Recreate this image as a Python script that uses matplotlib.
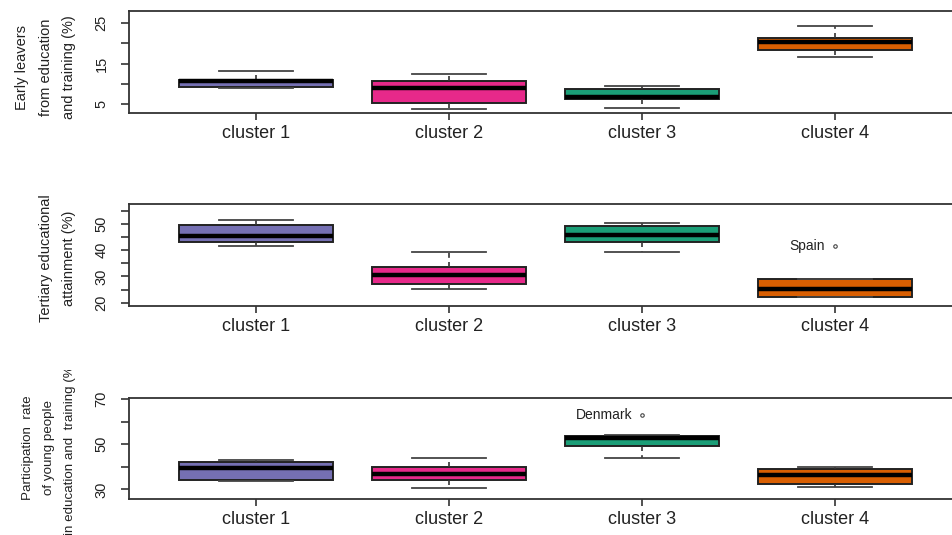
import matplotlib
matplotlib.use("Agg")
import matplotlib.pyplot as plt
from matplotlib.transforms import Bbox

plt.rcParams['font.family'] = ['Liberation Sans', 'DejaVu Sans']

categories = ["cluster 1", "cluster 2", "cluster 3", "cluster 4"]
colors = ["#7570B3", "#E7298A", "#1B9E77", "#D95F02"]

# five-number summaries: whislo, q1, med, q3, whishi
early_lo  = [9.0, 3.92, 4.16, 16.58]
early_q1  = [9.19, 5.39, 6.38, 18.37]
early_med = [10.7, 8.94, 6.72, 20.27]
early_q3  = [10.98, 10.8, 8.69, 21.4]
early_hi  = [13.1, 12.54, 9.5, 24.2]

tert_lo  = [41.6, 25.3, 39.35, 22.0]
tert_q1  = [43.16, 26.96, 43.16, 22.0]
tert_med = [45.44, 30.6, 45.7, 25.3]
tert_q3  = [49.6, 33.5, 49.24, 28.86]
tert_hi  = [51.5, 39.35, 50.4, 28.86]
tert_out = [[], [], [], [41.6]]
tert_out_lab = ["", "", "", "Spain"]

part_lo  = [33.7, 30.4, 44.1, 31.0]
part_q1  = [34.25, 34.1, 49.1, 32.3]
part_med = [39.3, 36.6, 52.96, 36.5]
part_q3  = [41.95, 40.0, 53.7, 39.1]
part_hi  = [42.8, 43.7, 54.3, 40.0]
part_out = [[], [], [62.8], []]
part_out_lab = ["", "", "Denmark", ""]

early_ticks = [5, 10, 15, 20, 25]
early_ticklabels = ["5", "", "15", "", "25"]
tert_ticks = [20, 25, 30, 35, 40, 45, 50, 55]
tert_ticklabels = ["20", "", "30", "", "40", "", "50", ""]
part_ticks = [30, 40, 50, 60, 70]
part_ticklabels = ["30", "", "50", "", "70"]

ylabels = ["Early leavers\nfrom education\nand training (%)",
           "Tertiary educational\nattainment (%)",
           "Participation  rate\nof young people\nin education and  training (%)"]

panels = [
    (early_lo, early_q1, early_med, early_q3, early_hi, [[], [], [], []], ["", "", "", ""],
     early_ticks, early_ticklabels, (2.86, 28.0)),
    (tert_lo, tert_q1, tert_med, tert_q3, tert_hi, tert_out, tert_out_lab,
     tert_ticks, tert_ticklabels, (18.75, 57.4)),
    (part_lo, part_q1, part_med, part_q3, part_hi, part_out, part_out_lab,
     part_ticks, part_ticklabels, (25.6, 70.6)),
]

W, H = 952, 535
fig = plt.figure(figsize=(W / 100, H / 100), dpi=100)
fig.patch.set_facecolor("white")

tops = [11, 204.3, 397.7]
bottoms = [113, 306, 499.3]
label_shift = [5, 3, -1]
label_size = [10.5, 10.5, 9.6]
label_spacing = [1.85, 1.85, 2.02]
clip_regions = [(0, 178), (178, 357), (370, 535)]
left_px = 129
spine_c = "#333333"

for i, (lo, q1, med, q3, hi, outs, outlab, ticks, tlabels, ylim) in enumerate(panels):
    ax = fig.add_axes([left_px / W, 1 - bottoms[i] / H, 1 - left_px / W,
                       (bottoms[i] - tops[i]) / H])
    stats = []
    for k in range(4):
        stats.append(dict(whislo=lo[k], q1=q1[k], med=med[k], q3=q3[k],
                          whishi=hi[k], fliers=outs[k]))
    positions = [1, 2, 3, 4]
    bp = ax.bxp(stats, positions=positions, widths=0.8, capwidths=0.38,
                patch_artist=True, showfliers=True,
                boxprops=dict(edgecolor="#222222", linewidth=1.4),
                medianprops=dict(color="black", linewidth=3.2, solid_capstyle="butt"),
                whiskerprops=dict(color="#333333", linewidth=1.2, linestyle=(0, (3, 2.5))),
                capprops=dict(color="#444444", linewidth=1.3),
                flierprops=dict(marker="o", markersize=2.5, markerfacecolor="none",
                                markeredgecolor="#444444", markeredgewidth=0.8))
    for patch, c in zip(bp["boxes"], colors):
        patch.set_facecolor(c)
    for k in range(4):
        for v in outs[k]:
            ax.annotate(outlab[k], (positions[k], v), xytext=(-10, 0),
                        textcoords="offset pixels", ha="right", va="center",
                        fontsize=10, color="#222222")
    ax.set_xlim(0.342, 4.606)
    ax.set_ylim(*ylim)
    ax.set_xticks(positions)
    ax.set_xticklabels(categories, fontsize=13, color="#222222")
    ax.set_yticks(ticks)
    ax.set_yticklabels(tlabels, rotation=90, va="center", fontsize=10.5, color="#222222")
    ax.tick_params(axis="y", direction="out", length=5.8, width=1.2, pad=9, colors=spine_c,
                   labelcolor="#222222")
    ax.tick_params(axis="x", direction="out", length=5, width=1.2, pad=3.5, colors=spine_c,
                   labelcolor="#222222")
    ax.spines["right"].set_visible(False)
    for s in ["left", "top", "bottom"]:
        ax.spines[s].set_color(spine_c)
        ax.spines[s].set_linewidth(1.3)

    yc = 1 - ((tops[i] + bottoms[i]) / 2 + label_shift[i]) / H
    t = fig.text(76 / W, yc, ylabels[i], rotation=90, ha="right", va="center",
                 multialignment="center", fontsize=label_size[i],
                 linespacing=label_spacing[i], color="#222222")
    r0, r1 = clip_regions[i]
    t.set_clip_box(Bbox([[0, H - r1], [W, H - r0]]))
    t.set_clip_on(True)

fig.savefig("out.png", dpi=100, facecolor="white")
